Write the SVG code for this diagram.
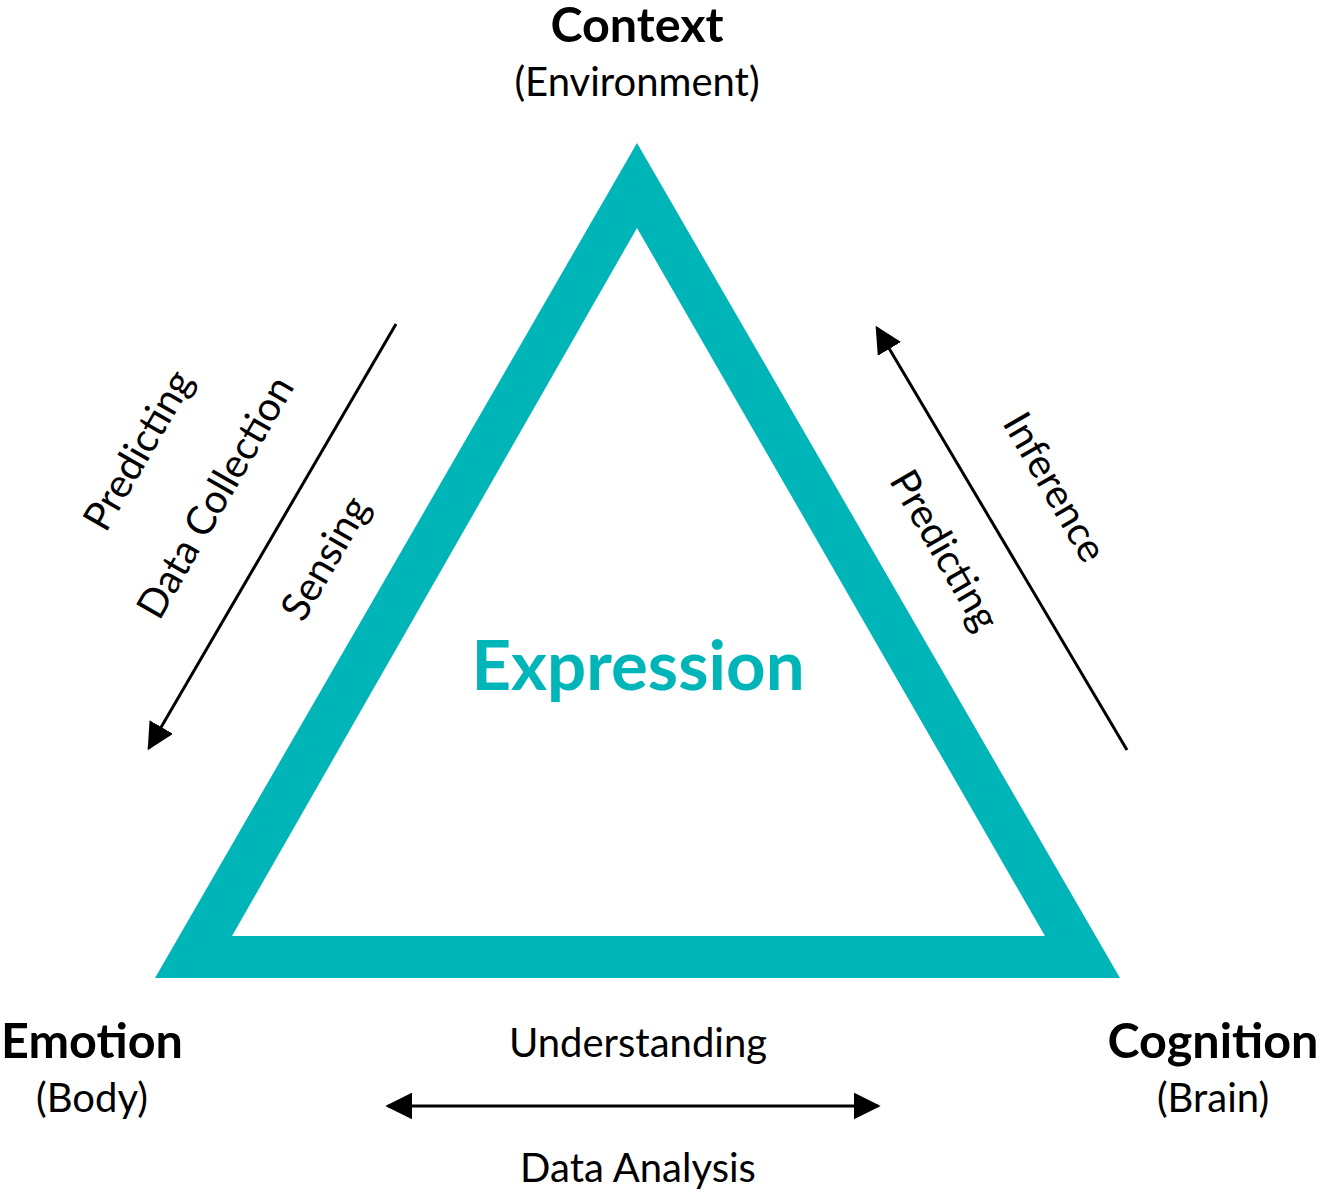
<svg xmlns="http://www.w3.org/2000/svg" width="1320" height="1194" viewBox="0 0 1320 1194">
<style>
text{font-family:Lato,"Open Sans","Liberation Sans",sans-serif;fill:#000;text-anchor:middle}
.h{font-weight:bold;font-size:48.5px}
.s{font-size:40px}
.l{stroke:#000;stroke-width:3;fill:none}
</style>
<defs>
<marker id="a" viewBox="0 0 10 10" refX="9" refY="5" markerWidth="9" markerHeight="9" orient="auto-start-reverse" markerUnits="strokeWidth"><path d="M0,0L10,5L0,10z" fill="#000"/></marker>
</defs>
<rect width="1320" height="1194" fill="#fff"/>
<g id="triangle">
<path d="M637,143L1120,978L155,978Z M637,228L232,936L1045,936Z" fill="#00B5B8" fill-rule="evenodd"/>
<text x="638" y="690" style="font-weight:bold;font-size:69px;fill:#00B5B8">Expression</text>
</g>
<g id="context"><text class="h" x="637" y="42">Context</text><text class="s" x="637" y="96">(Environment)</text></g>
<g id="emotion"><text class="h" x="92" y="1058">Emotion</text><text class="s" x="92" y="1112">(Body)</text></g>
<g id="cognition"><text class="h" x="1213" y="1058">Cognition</text><text class="s" x="1213" y="1112">(Brain)</text></g>
<g id="connectors">
<line class="l" x1="396" y1="324" x2="149" y2="748" marker-end="url(#a)"/>
<line class="l" x1="1127" y1="750" x2="877" y2="328" marker-end="url(#a)"/>
<line class="l" x1="388" y1="1106" x2="878" y2="1106" marker-start="url(#a)" marker-end="url(#a)"/>
</g>
<g id="labels">
<text class="s" transform="translate(138,450) rotate(-60)" y="14">Predicting</text>
<text class="s" transform="translate(215,497) rotate(-60)" y="14">Data Collection</text>
<text class="s" transform="translate(325,558) rotate(-60)" y="14">Sensing</text>
<text class="s" transform="translate(1055,487) rotate(60)" y="14">Inference</text>
<text class="s" transform="translate(945,550) rotate(60)" y="14">Predicting</text>
<text class="s" x="638" y="1057">Understanding</text>
<text class="s" x="638" y="1182">Data Analysis</text>
</g>
</svg>
